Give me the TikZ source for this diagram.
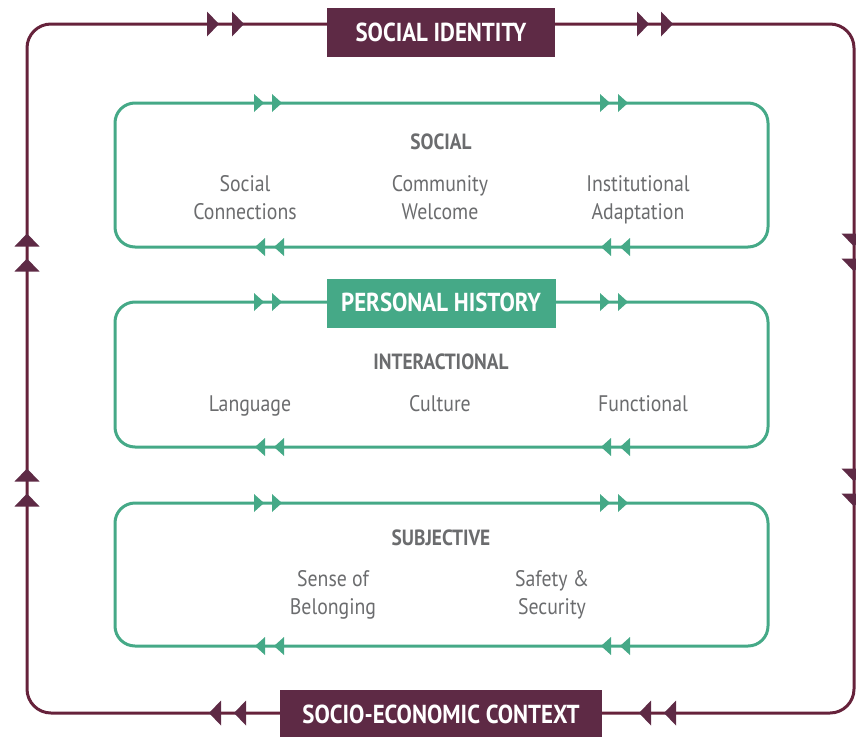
\documentclass[tikz,border=0pt]{standalone}
\usepackage{fontspec}
\setmainfont[FakeStretch=0.88]{PT Sans}
\definecolor{plum}{HTML}{5E2A45}
\definecolor{plumline}{HTML}{66223B}
\definecolor{teal}{HTML}{45A987}
\definecolor{txt}{HTML}{6B6C6E}
\tikzset{
  frame/.style={draw=plumline, line width=3pt, rounded corners=24pt},
  gbox/.style={draw=teal, line width=3pt, rounded corners=20pt},
  plumbox/.style={fill=plum},
  greenbox/.style={fill=teal},
  labeltext/.style={text=white, font=\bfseries\fontsize{26}{28}\selectfont, inner sep=0pt, anchor=base},
  head/.style={text=txt, font=\bfseries\fontsize{22}{24}\selectfont, anchor=base, inner sep=0pt},
  item/.style={text=txt, font=\fontsize{22.5}{28}\selectfont, align=center, anchor=base, inner sep=0pt},
  gR/.pic={\fill[teal] (-5,-9) -- (5,0) -- (-5,9) -- cycle;},
  gL/.pic={\fill[teal] (5,-9) -- (-5,0) -- (5,9) -- cycle;},
  pR/.pic={\fill[plum] (-6,-12.5) -- (6,0) -- (-6,12.5) -- cycle;},
  pL/.pic={\fill[plum] (6,-12.5) -- (-6,0) -- (6,12.5) -- cycle;},
  pU/.pic={\fill[plum] (-12.5,6.5) -- (0,-6.5) -- (12.5,6.5) -- cycle;},
  pD/.pic={\fill[plum] (-12.5,-6.5) -- (0,6.5) -- (12.5,-6.5) -- cycle;},
}
\begin{document}
\begin{tikzpicture}[x=1pt,y=-1pt]
\useasboundingbox (0,0) rectangle (856,736);
\clip (0,0) rectangle (856,736);
% outer frame
\draw[frame] (27,24) rectangle (854,713);
% plum arrows
\pic at (213,24) {pR}; \pic at (238,24) {pR};
\pic at (643,24) {pR}; \pic at (667,24) {pR};
\pic at (215,713) {pL}; \pic at (240,713) {pL};
\pic at (645,713) {pL}; \pic at (670,713) {pL};
\pic at (27,240) {pU}; \pic at (27,265) {pU};
\pic at (27,475) {pU}; \pic at (27,500) {pU};
\pic at (854,240) {pD}; \pic at (854,265) {pD};
\pic at (854,475) {pD}; \pic at (854,500) {pD};
% labels on frame
\fill[plumbox] (327,8) rectangle (555,57);
\node[labeltext] (sid) at (441,41) {SOCIAL IDENTITY};
\fill[plumbox] (280,690) rectangle (602,740);
\node[labeltext] (sec) at (441,723) {SOCIO-ECONOMIC CONTEXT};
% green boxes
\draw[gbox] (115,103) rectangle (768,247);
\draw[gbox] (115,302) rectangle (768,447);
\draw[gbox] (115,503) rectangle (768,646);
\foreach \y in {103,302,503} {
  \pic at (259,\y) {gR}; \pic at (277,\y) {gR};
  \pic at (605,\y) {gR}; \pic at (623,\y) {gR};
}
\foreach \y in {247,447,646} {
  \pic at (260,\y) {gL}; \pic at (279,\y) {gL};
  \pic at (606,\y) {gL}; \pic at (625,\y) {gL};
}
\fill[greenbox] (327,279) rectangle (556,328);
\node[labeltext] (ph) at (441,311) {PERSONAL HISTORY};
% texts
\node[head] (social) at (441,149) {SOCIAL};
\node[item] (sc) at (245,219) {Social\\Connections};
\node[item] (cw) at (440,219) {Community\\Welcome};
\node[item] (ia) at (638,219) {Institutional\\Adaptation};
\node[head] (inter) at (441,369) {INTERACTIONAL};
\node[item] (lang) at (250,411) {Language};
\node[item] (cult) at (440,411) {Culture};
\node[item] (func) at (643,411) {Functional};
\node[head] (subj) at (441,545) {SUBJECTIVE};
\node[item] (sob) at (333,614) {Sense of\\Belonging};
\node[item] (ss) at (552,614) {Safety \&\\Security};
\end{tikzpicture}
\end{document}
